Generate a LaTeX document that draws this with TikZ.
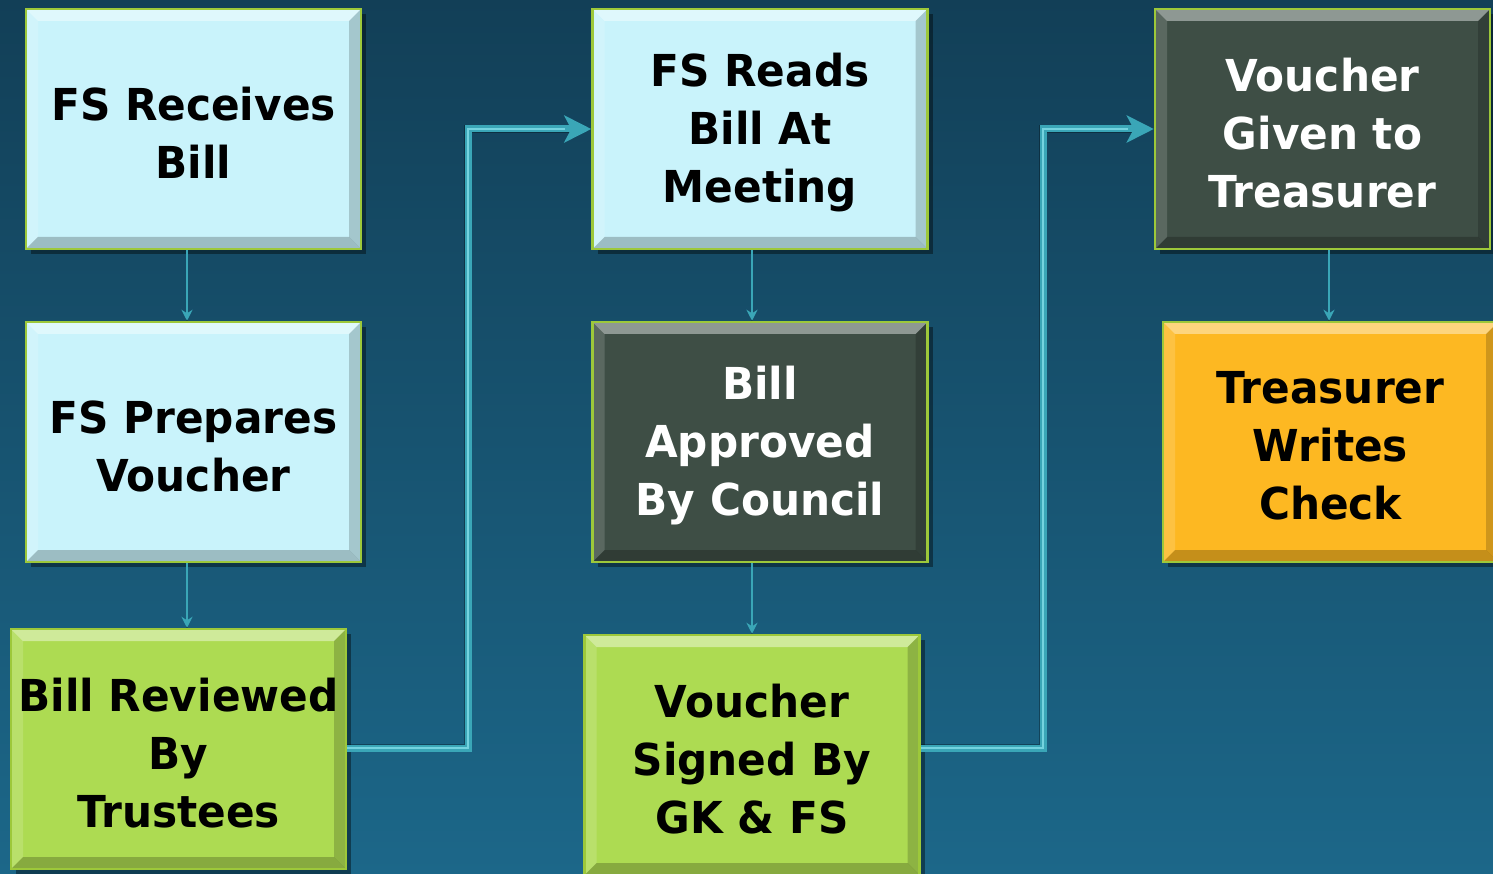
\documentclass[tikz,border=0pt]{standalone}
\usepackage{fontspec}
\setmainfont{DejaVu Sans}
\usetikzlibrary{arrows.meta,shadows}

\definecolor{bgtop}{HTML}{123F57}
\definecolor{bgbot}{HTML}{1C6789}
\definecolor{paleblue}{HTML}{C9F3FB}
\definecolor{slate}{HTML}{3E4E45}
\definecolor{lime}{HTML}{ADDB52}
\definecolor{amber}{HTML}{FDB822}
\definecolor{rim}{HTML}{9DC83A}
\definecolor{pipe}{HTML}{3AA6B7}
\definecolor{pipelight}{HTML}{74D3DF}

\newcommand\boxfont{\addfontfeature{FakeStretch=0.96}\fontsize{44}{58}\selectfont\bfseries}

% bevelled faces drawn inside every box
\newcommand\bevelfaces{%
  \coordinate (bnw) at (path picture bounding box.north west);
  \coordinate (bne) at (path picture bounding box.north east);
  \coordinate (bsw) at (path picture bounding box.south west);
  \coordinate (bse) at (path picture bounding box.south east);
  \fill[white,opacity=.42] (bnw) -- (bne) -- ([shift={(-12pt,-12pt)}]bne) -- ([shift={(12pt,-12pt)}]bnw) -- cycle;
  \fill[white,opacity=.15] (bnw) -- (bsw) -- ([shift={(12pt,12pt)}]bsw) -- ([shift={(12pt,-12pt)}]bnw) -- cycle;
  \fill[black,opacity=.18] (bne) -- (bse) -- ([shift={(-12pt,12pt)}]bse) -- ([shift={(-12pt,-12pt)}]bne) -- cycle;
  \fill[black,opacity=.22] (bsw) -- (bse) -- ([shift={(-12pt,12pt)}]bse) -- ([shift={(12pt,12pt)}]bsw) -- cycle;
}

\tikzset{
  stepbox/.style={draw=rim, line width=2.5pt, minimum width=335pt, minimum height=240pt,
    inner sep=0pt,
    drop shadow={shadow xshift=5pt, shadow yshift=-5pt, opacity=.4, fill=black},
    path picture={\bevelfaces}},
  lightbox/.style={stepbox, fill=paleblue},
  darkbox/.style={stepbox, fill=slate},
  greenbox/.style={stepbox, fill=lime},
  goldbox/.style={stepbox, fill=amber},
  words/.style={align=center, font=\boxfont, inner sep=0pt},
  feed/.style={draw=pipe, line width=1.8pt, -{Stealth[length=11pt,width=11pt]}},
  feedshadow/.style={draw=black, opacity=.3, line width=2.5pt, shift={(3pt,-2pt)}},
  pipeline/.style={draw=pipe, line width=7pt, -{Stealth[length=27pt,width=27pt,inset=7pt]}},
  pipeshine/.style={draw=pipelight, line width=2.5pt, shift={(-1pt,1.5pt)}, shorten >=26pt},
  pipeshadow/.style={draw=black, opacity=.3, line width=8pt, shift={(4pt,-5pt)}, shorten >=14pt},
}

% a bevelled box (#1 name, #2 box style, #3 text colour, #4 centre, #5 text)
\newcommand\stage[5]{%
  \node[#2] (#1) at (#4) {};
  \node[words, text=#3] (#1-text) at ([yshift=-4pt]#1.center) {#5};
}

\begin{document}
\begin{tikzpicture}[x=1pt,y=-1pt]
  \useasboundingbox (0,0) rectangle (1493,874);
  \shade[top color=bgtop, bottom color=bgbot] (0,0) rectangle (1493,874);

  % first column
  \stage{recv}{lightbox}{black}{193.5,129}{FS Receives\\Bill}
  \stage{prep}{lightbox}{black}{193.5,442}{FS Prepares\\Voucher}
  \stage{trus}{greenbox}{black}{178.5,749}{Bill Reviewed\\By\\Trustees}

  % second column
  \stage{reads}{lightbox}{black}{760,129}{FS Reads\\Bill At\\Meeting}
  \stage{appr}{darkbox}{white}{760,442}{Bill\\Approved\\By Council}
  \stage{sign}{greenbox}{black}{752,755}{Voucher\\Signed By\\GK \& FS}

  % third column
  \stage{given}{darkbox}{white}{1322.5,129}{Voucher\\Given to\\Treasurer}
  \stage{check}{goldbox}{black}{1330.5,442}{Treasurer\\Writes\\Check}

  % junctions of the long connectors
  \coordinate (j1) at (468,748);
  \coordinate (j2) at (1043,748);

  % short links inside each column
  \foreach \a/\b/\dx in {recv/prep/-6.5pt, prep/trus/-6.5pt, reads/appr/-8pt, appr/sign/-8pt, given/check/6.5pt}{
    \draw[feedshadow] ([xshift=\dx]\a.south) -- ([xshift=\dx]\a.south |- \b.north);
    \draw[feed] ([xshift=\dx]\a.south) -- ([xshift=\dx]\a.south |- \b.north);
  }

  % long links between the columns
  \foreach \a/\j/\b in {trus/j1/reads, sign/j2/given}{
    \draw[pipeshadow] (\a.east |- \j) -- (\j) |- (\b.west);
    \draw[pipeline] (\a.east |- \j) -- (\j) |- (\b.west);
    \draw[pipeshine] (\a.east |- \j) -- (\j) |- (\b.west);
  }
\end{tikzpicture}
\end{document}
